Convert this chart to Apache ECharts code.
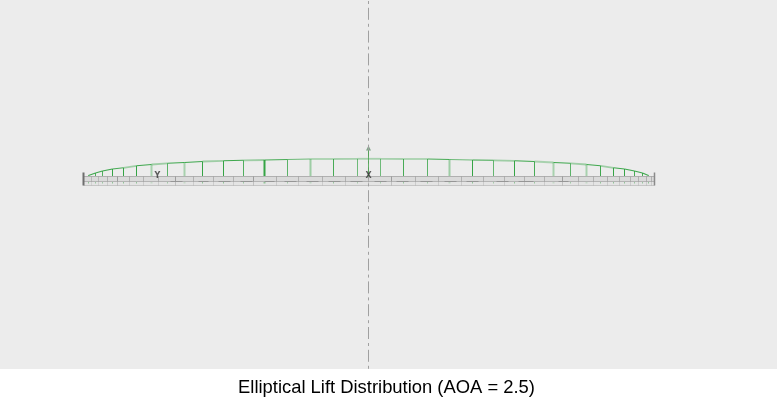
<!DOCTYPE html>
<html><head><meta charset="utf-8">
<style>html,body{margin:0;padding:0;background:#fff}#c{width:777px;height:406px}</style>
<script src="https://cdn.jsdelivr.net/npm/echarts@6/dist/echarts.min.js"></script></head>
<body><div id="c"></div>
<script>
// Span stations (distance from centreline) and lift at each, in drawing units
const stations = [-280,-273,-266,-256,-245,-232,-217,-201,-184,-166,-145,-125,-104,-81,-58,-35,-11,12,35,59,81,104,125,146,166,185,202,218,232,245,256,266,274,280];
const lift     = [8,10.5,12.5,14.5,15.7,17.7,19,20.2,21,22,22.7,23.2,23.5,24,24.5,24.5,24.7,24.7,24.5,24.5,24,23.5,23.2,22.7,22,21,20.2,19,17.7,15.7,14.5,12.5,10.5,8];
const stemShade = [.95,.8,.8,.95,.95,.95,.35,.75,.35,.95,.95,.8,.95,.75,.4,.85,.65,.65,.85,.75,.4,.95,.7,.95,.85,.35,.75,.35,.9,.95,.95,.85,.85,.95];
const stemWidth = [1,1,1,1,1,1,2,1,2,1,1,1,2,1,2,1,1,1,1,1,2,1,1,1,1,2,1,2,1,1,1,1,1,1];
const curveShade = [.9,.9,.9,.85,.4,.9,.4,.9,.9,.4,.9,.4,.85,.65,.35,.35,.35,.35,.35,.85,.65,.9,.4,.9,.35,.9,.4,.9,.4,.9,.9,.9,.9];
// Structural rib stations and tones
const ribs = [-277,-270,-261,-251,-239,-225,-210,-193,-175,-155,-135,-115,-92,-70,-46,-23,0,23,47,70,93,115,136,156,176,194,210,225,239,251,262,270,278,283];
const ribShade = [.5,.5,.6,.9,.6,.6,.6,.9,.6,.6,.6,.9,.6,.6,.6,.6,.6,.9,.6,.6,.6,.6,.6,.6,.6,.9,.6,.6,.6,.6,.6,.6,.6,.6];
// Darker dashes along the wing mid line [from, to]
const midDashes = [[-198,-186],[-170,-160],[-150,-138],[-128,-116],[-104,-94],[-84,-72],[-62,-50],[-40,-28],[-18,-6],[6,18],[28,40],[52,64],[76,88],[98,110],[128,140],[150,165],[190,200]];
// Wing reference levels and extents
const wingTop = 7, wingMid = 2, wingBottom = -2, capTop = 11, capBottom = -2;
const wingEnds = [-285, 286];
const centreLine = [183.5, -185.5];
const axisArrow = [33, 7];
const arrowTip = 35.5;
const xRange = [-368.5, 408.5], yRange = [-185.5, 183.5];
const titleText = 'Elliptical Lift Distribution (AOA = 2.5)';

const GREEN = '43,160,60', GREY = '150,150,150';
function seg(api, x1, y1, x2, y2, stroke, w) {
  const a = api.coord([x1, y1]), b = api.coord([x2, y2]);
  return { type: 'line', shape: { x1: a[0], y1: a[1], x2: b[0], y2: b[1] }, style: { stroke, lineWidth: w }, silent: true };
}
const table = stations.map((s, i) => [s, lift[i], stemShade[i], i]);
const chart = echarts.init(document.getElementById('c'), null, { renderer: 'canvas' });
chart.setOption({
  animation: false,
  backgroundColor: '#ffffff',
  title: { text: titleText, left: 381.5, top: 373.5, textAlign: 'center',
           textStyle: { fontFamily: 'Liberation Sans', fontSize: 18.4, fontWeight: 'normal', color: '#000' } },
  grid: { left: 0, top: 0, width: 777, height: 369, show: true, backgroundColor: '#ececec', borderWidth: 0 },
  xAxis: { type: 'value', min: xRange[0], max: xRange[1], show: false },
  yAxis: { type: 'value', min: yRange[0], max: yRange[1], show: false },
  tooltip: { show: false },
  series: [
    { name: 'lift', type: 'custom', coordinateSystem: 'cartesian2d', z: 3, encode: { x: 0, y: 1 },
      data: table,
      renderItem: (p, api) => {
        const i = api.value(3), s = api.value(0), v = api.value(1), o = api.value(2);
        const kids = [seg(api, s, 0, s, v, `rgba(${GREEN},${o})`, stemWidth[i])];
        if (i < stations.length - 1) kids.push(seg(api, s, v, stations[i + 1], lift[i + 1], `rgba(${GREEN},${curveShade[i]})`, curveShade[i] < .5 ? 1.8 : 1.1));
        return { type: 'group', children: kids };
      } },
    { name: 'wing', type: 'custom', coordinateSystem: 'cartesian2d', z: 4, encode: { x: 0, y: 1 },
      data: [[wingEnds[0], wingTop]],
      renderItem: (p, api) => {
        const [L, R] = wingEnds;
        const a = api.coord([L, wingTop]), b = api.coord([R, wingMid]), c = api.coord([R, wingBottom]);
        const kids = [
          { type: 'rect', shape: { x: a[0], y: a[1], width: b[0] - a[0], height: b[1] - a[1] }, style: { fill: '#dadada' } },
          { type: 'rect', shape: { x: a[0], y: b[1], width: b[0] - a[0], height: c[1] - b[1] }, style: { fill: 'rgba(222,222,222,.55)' } },
          seg(api, L, wingTop, R, wingTop, '#b0b0b0', 1),
          seg(api, L, wingMid, R, wingMid, '#b4b4b4', 1),
          seg(api, L, wingBottom, R, wingBottom, '#c6c6c6', 1)
        ];
        midDashes.forEach(d => kids.push(seg(api, d[0], wingMid, d[1], wingMid, '#969696', 1)));
        ribs.forEach((r, i) => {
          kids.push(seg(api, r, wingTop, r, wingMid, `rgba(${GREY},${ribShade[i]})`, 1));
          kids.push(seg(api, r, wingMid, r, wingBottom, `rgba(${GREY},${ribShade[i] * .5})`, 1));
        });
        kids.push(seg(api, L, capTop, L, capBottom, '#6e6e6e', 2));
        kids.push(seg(api, R, capTop, R, capBottom, '#8a8a8a', 1.5));
        return { type: 'group', children: kids };
      } },
    { name: 'centre', type: 'line', z: 5, showSymbol: false, silent: true,
      data: [[0, centreLine[0]], [0, centreLine[1]]],
      lineStyle: { color: '#a0a0a0', width: 1, type: [12, 4, 3, 3.8], dashOffset: 15 } },
    { name: 'axisX', type: 'line', z: 6, silent: true, symbol: 'none',
      data: [[0, axisArrow[0]], [0, axisArrow[1]]], lineStyle: { color: 'rgba(67,160,71,.8)', width: 1 },
      markPoint: { silent: true, symbol: 'triangle', symbolSize: [5, 5], itemStyle: { color: '#7fa387' }, label: { show: false },
        data: [{ coord: [0, arrowTip] }] } },
    { name: 'labels', type: 'scatter', z: 7, symbolSize: 0, silent: true,
      data: [{ value: [0, 8], label: { formatter: 'X' } }, { value: [-211, 8], label: { formatter: 'Y' } }],
      label: { show: true, position: 'inside', fontFamily: 'DejaVu Sans', fontSize: 8, fontWeight: 'bold', color: '#333' } }
  ]
});
</script></body></html>
